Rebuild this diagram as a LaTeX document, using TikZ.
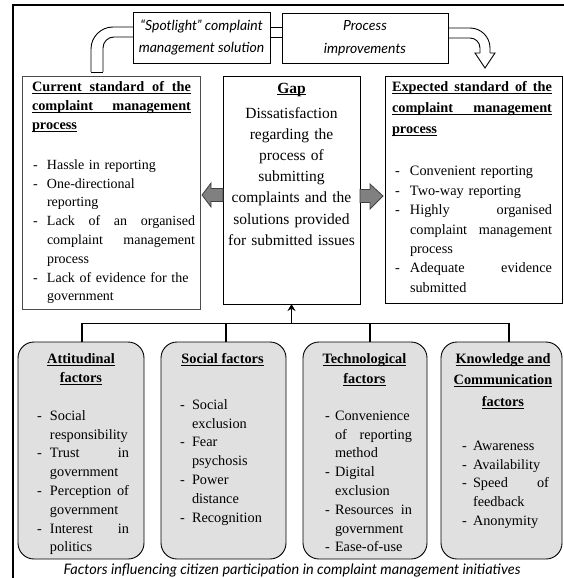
\documentclass[tikz,border=0pt]{standalone}
\usepackage{fontspec}
\setmainfont{Liberation Serif}
\newfontfamily\capfont{Lato}
\usetikzlibrary{calc,arrows.meta}
\definecolor{facgray}{HTML}{E0E0E0}
\definecolor{arrowgray}{HTML}{808080}
\setlength{\parindent}{0pt}
\tolerance=9999 \pretolerance=-1 \hyphenpenalty=10000 \exhyphenpenalty=10000
% underline that ignores descenders
\newcommand\ul[1]{\underline{\raisebox{0pt}[\height][0pt]{#1}}}
% underlined line spread over the full width (words separated by \hfill)
\newcommand\jl[1]{\ul{\makebox[\hsize]{#1}}}
% dash item with hanging indent
\newcommand\di[2][13pt]{\par\hangindent=#1\hangafter=1\makebox[#1][l]{-}#2\par}

\begin{document}
\begin{tikzpicture}[x=1pt,y=-1pt,
  plain/.style={draw=black, line width=0.9pt, inner sep=0pt, outer sep=0pt},
  factorbox/.style={draw=black, line width=0.9pt, fill=facgray, rounded corners=16pt, inner sep=0pt, outer sep=0pt},
  body/.style={inner sep=0pt, outer sep=0pt, font=\fontsize{14.3}{18.8}\selectfont},
  head/.style={inner sep=0pt, outer sep=0pt, align=center, font=\fontsize{14.3}{19}\selectfont\bfseries},
  ital/.style={inner sep=0pt, outer sep=0pt, align=center, font=\capfont\itshape\fontsize{14}{22.5}\selectfont},
  pipe/.style={draw=black, line width=0.9pt},
  blockarrow/.style={draw=black!75, line width=0.8pt, fill=arrowgray},
  bus/.style={draw=black, line width=1.5pt}
]
\useasboundingbox (0,0) rectangle (563,578);

% outer frame
\draw[line width=1.8pt] (13,580) -- (13,5) -- (565,5);

% top row: solution and improvements
\node[plain, minimum width=137, minimum height=51] (spot) at (201.5,37.5) {};
\node[plain, minimum width=166, minimum height=50] (proc) at (365,38) {};
\node[ital] (spott) at (spot.center) {“Spotlight” complaint\\management solution};
\node[ital] (proct) at (proc.center) {Process\\improvements};

% hollow pipe from the current process into the solution
\draw[pipe, rounded corners=22pt] (133,27) -- (91,27) -- (91,72);
\draw[pipe, rounded corners=11pt] (133,37) -- (103,37) -- (103,72);
\draw[pipe] (91,72) -- (103,72);
% pipe between the two boxes
\draw[pipe] (270,27.5) -- (282,27.5);
\draw[pipe] (270,37.5) -- (282,37.5);
% hollow pipe ending in an open arrow head
\draw[pipe, rounded corners=20pt] (448,28) -- (490,28) -- (490,53);
\draw[pipe, rounded corners=10pt] (448,38) -- (480,38) -- (480,53);
\draw[pipe, line join=miter] (490,53) -- (495,53) -- (485,68) -- (475,53) -- (480,53);

% middle row
\node[plain, draw=black!70, minimum width=178, minimum height=233] (cur) at (111,192.5) {};
\node[plain, minimum width=137, minimum height=228] (gap) at (291.5,190) {};
\node[plain, minimum width=177, minimum height=227] (exp) at (473.5,189.5) {};

\node[body, anchor=north west, text width=159, font=\fontsize{14.3}{19}\selectfont\bfseries] (curh) at (32,81.5)
  {\jl{Current\hfill standard\hfill of\hfill the}\par\jl{complaint\hfill management}\par\ul{process}};
\node[body, anchor=north west, text width=162, font=\fontsize{14}{18.8}\selectfont] (curl) at (33,150.5)
  {\di[14pt]{Hassle in reporting}\di[14pt]{One-directional\newline reporting}%
   \di[14pt]{Lack\hfill of\hfill an\hfill organised\newline complaint\hfill management\newline process}%
   \di[14pt]{Lack of evidence for the\newline government}};

\node[inner sep=0pt, outer sep=0pt, anchor=north, align=center, text width=132,
      font=\fontsize{15.5}{21.2}\selectfont] (gapt) at (291.5,83)
  {\textbf{\ul{Gap}}\\[3.7pt]Dissatisfaction\\regarding the\\process of\\submitting\\complaints and the\\solutions provided\\for submitted issues};

\node[body, anchor=north west, text width=160, font=\fontsize{14.3}{21}\selectfont\bfseries] (exph) at (392,81.5)
  {\jl{Expected\hfill standard\hfill of\hfill the}\par\jl{complaint\hfill management}\par\ul{process}};
\node[body, anchor=north west, text width=157, font=\fontsize{14.3}{19.4}\selectfont] (expl) at (395,156.5)
  {\di[15pt]{Convenient reporting}\di[15pt]{Two-way reporting}%
   \di[15pt]{Highly\hfill organised\newline complaint\hfill management\newline process}%
   \di[15pt]{Adequate\hfill evidence\newline submitted}};

% block arrows out of the gap
\draw[blockarrow] (gap.west |- 0,188.5) -- (211,188.5) -- (211,183) -- (202,195) -- (211,207) -- (211,201.5) -- (gap.west |- 0,201.5) -- cycle;
\draw[blockarrow] (gap.east |- 0,189.5) -- (370,189.5) -- (370,184) -- (383,196) -- (370,209) -- (370,202.5) -- (gap.east |- 0,202.5) -- cycle;

% bottom row: factor groups
\node[factorbox, minimum width=126, minimum height=217] (b1) at (81,450.5) {};
\node[factorbox, minimum width=125, minimum height=217] (b2) at (223.5,450.5) {};
\node[factorbox, minimum width=124, minimum height=217] (b3) at (365,450.5) {};
\node[factorbox, minimum width=121, minimum height=217] (b4) at (501.5,450.5) {};

\node[head, anchor=north] (b1h) at (81,353.5) {\ul{Attitudinal}\\\ul{factors}};
\node[head, anchor=north] (b2h) at (222.5,353.5) {\ul{Social factors}};
\node[head, anchor=north, font=\fontsize{14.3}{20}\selectfont\bfseries] (b3h) at (364.5,353.5) {\ul{Technological}\\\ul{factors}};
\node[head, anchor=north, font=\fontsize{14.3}{21.5}\selectfont\bfseries] (b4h) at (503,353.5) {\ul{Knowledge and}\\\ul{Communication}\\\ul{factors}};

\node[body, anchor=north west, text width=92] (b1l) at (37,401.5)
  {\di{Social\newline responsibility}\di{Trust\hfill in\newline government}%
   \di{Perception\hfill of\newline government}\di{Interest\hfill in\newline politics}};
\node[body, anchor=north west, text width=88] (b2l) at (180,390.5)
  {\di[12pt]{Social\newline exclusion}\di[12pt]{Fear\newline psychosis}%
   \di[12pt]{Power\newline distance}\di[12pt]{Recognition}};
\node[body, anchor=north west, text width=87] (b3l) at (325,401.5)
  {\di[10pt]{Convenience\newline of\hfill reporting\newline method}\di[10pt]{Digital\newline exclusion}%
   \di[10pt]{Resources\hfill in\newline government}\di[10pt]{Ease-of-use}};
\node[body, anchor=north west, text width=87] (b4l) at (462,431.5)
  {\di[11pt]{Awareness}\di[11pt]{Availability}\di[11pt]{Speed\hfill of\newline feedback}\di[11pt]{Anonymity}};

% connectors from the factor groups up to the gap
\coordinate (t1) at (82,323.5);
\coordinate (t2) at (226,323.5);
\coordinate (t3) at (370,323.5);
\coordinate (t4) at (509,323.5);
\coordinate (tm) at (gap.south |- t1);
\draw[bus] (t1 |- b1.north) -- (t1) -- (t4) -- (t4 |- b4.north);
\draw[bus] (t2) -- (t2 |- b2.north);
\draw[bus] (t3) -- (t3 |- b3.north);
\draw[bus, -{Stealth[length=7pt,width=8pt]}] (tm) -- (gap.south);

% caption
\node[inner sep=0pt, font=\capfont\itshape\fontsize{14.5}{16}\selectfont] (cap) at (292,570.5)
  {Factors influencing citizen participation in complaint management initiatives};
\end{tikzpicture}
\end{document}
